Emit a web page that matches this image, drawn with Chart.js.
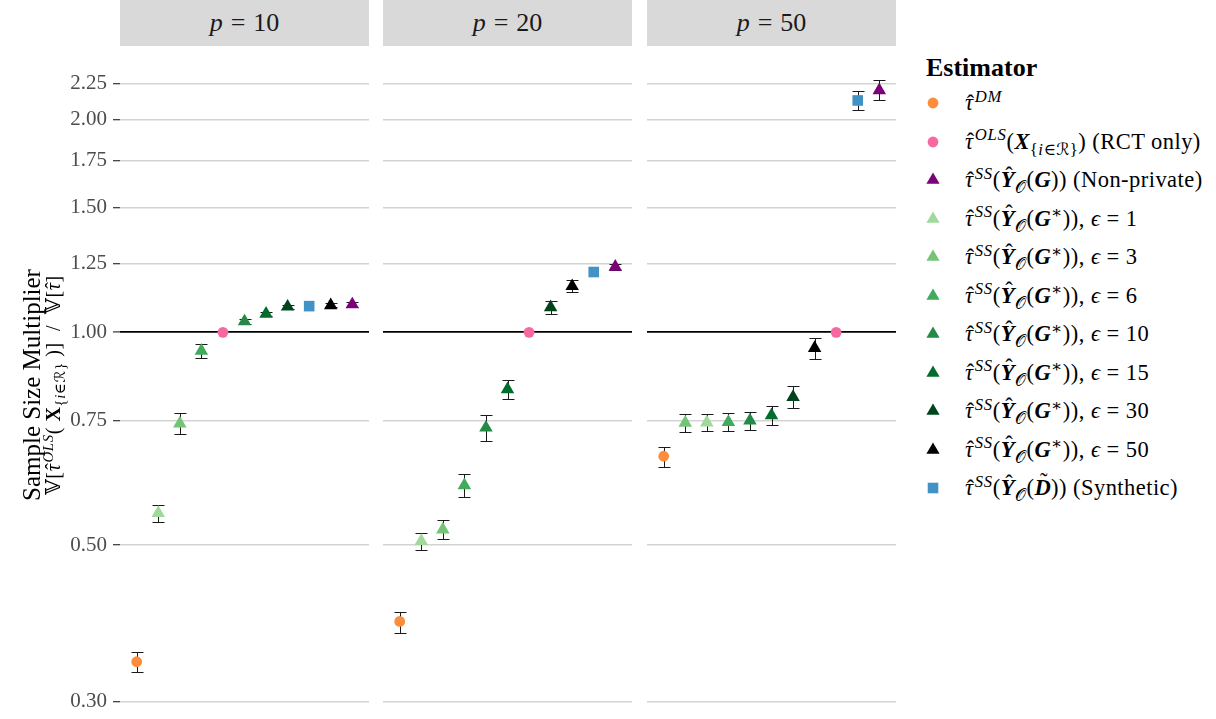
<!DOCTYPE html>
<html><head><meta charset="utf-8">
<script src="https://cdn.jsdelivr.net/npm/chart.js@4.4.1/dist/chart.umd.min.js"></script>
<style>
html,body{margin:0;padding:0;background:#fff;}
body{width:1216px;height:719px;overflow:hidden;position:relative;font-family:"Liberation Serif","DejaVu Serif","DejaVu Sans",serif;color:#000;}
.strip{position:absolute;top:0;height:46px;width:249px;background:#d9d9d9;display:flex;align-items:center;justify-content:center;font-size:26px;color:#1a1a1a;}
.strip .eq{margin:0 8px;}
canvas{position:absolute;top:0;}
.acc{position:relative;display:inline-block;}
.acc .hat{position:absolute;left:0.08em;right:0;top:0.02em;text-align:center;font-style:normal;font-weight:normal;}
.acc .hatc{position:absolute;left:0.12em;right:0;top:-0.2em;text-align:center;font-style:normal;font-weight:normal;}
.acc .til{position:absolute;left:0.12em;right:0;top:-0.3em;text-align:center;font-style:normal;font-weight:normal;}
.sup{font-size:0.74em;position:relative;top:-0.5em;font-style:italic;margin-left:0.08em;letter-spacing:0.04em;}
.sub{font-size:0.74em;position:relative;top:0.35em;}
.star{font-size:0.74em;position:relative;top:-0.45em;}
#ytitle{position:absolute;width:320px;height:44px;left:-117px;top:363px;transform:rotate(-90deg);text-align:center;}
#ytitle .l1{font-size:25px;line-height:21px;height:21px;}
#ytitle .l2{font-size:20px;line-height:23px;height:23px;letter-spacing:0.6px;}
#legend{position:absolute;left:0;top:0;}
.ltitle{position:absolute;left:926px;top:53px;font-size:26px;font-weight:bold;}
.lrow{position:absolute;left:965px;height:30px;line-height:30px;font-size:22.5px;white-space:nowrap;letter-spacing:0.45px;}
.lsym{position:absolute;}
</style>
</head><body>
<div class="strip" style="left:120px"><i>p</i><span class="eq">=</span>10</div>
<div class="strip" style="left:383px"><i>p</i><span class="eq">=</span>20</div>
<div class="strip" style="left:647px"><i>p</i><span class="eq">=</span>50</div>
<canvas id="c0" width="369" height="719" style="left:0px"></canvas>
<canvas id="c1" width="249" height="719" style="left:383px"></canvas>
<canvas id="c2" width="249" height="719" style="left:647px"></canvas>
<div id="ytitle">
  <div class="l1">Sample Size Multiplier</div>
  <div class="l2">𝕍[<span class="acc"><i>τ</i><span class="hat">ˆ</span></span><span class="sup">OLS</span>( <b>X</b><span class="sub">{<i>i</i>∈ℛ}</span> )]&nbsp; / &nbsp;𝕍[<span class="acc"><i>τ</i><span class="hat">ˆ</span></span>]</div>
</div>
<div id="legend"></div>
<script>
// ---- data ----
const facetLabels = ['p = 10', 'p = 20', 'p = 50'];
const estimatorNames = ['DM', 'OLS (RCT only)', 'SS (Non-private)', 'eps=1', 'eps=3', 'eps=6', 'eps=10', 'eps=15', 'eps=30', 'eps=50', 'SS (Synthetic)'];
const estimatorColors = ['#fd8d3c', '#f768a1', '#7a0177', '#a1d99b', '#74c476', '#41ab5d', '#238b45', '#006d2c', '#00441b', '#000000', '#4292c6'];
const estimatorShapes = ['circle', 'circle', 'triangle', 'triangle', 'triangle', 'triangle', 'triangle', 'triangle', 'triangle', 'triangle', 'rect'];
// values in estimator order
const p10Mean = [0.342, 1.000, 1.095, 0.555, 0.743, 0.9415, 1.036, 1.062, 1.087, 1.092, 1.089];
const p10Lo   = [0.3305, null, 1.087, 0.540, 0.717, 0.919, 1.029, 1.054, 1.080, 1.085, null];
const p10Hi   = [0.3534, null, 1.103, 0.570, 0.770, 0.964, 1.043, 1.070, 1.094, 1.099, null];
const p20Mean = [0.390, 1.000, 1.238, 0.5065, 0.526, 0.6075, 0.733, 0.8305, 1.085, 1.162, 1.217];
const p20Lo   = [0.376, null, 1.226, 0.4923, 0.510, 0.585, 0.702, 0.8044, 1.062, 1.140, null];
const p20Hi   = [0.4026, null, 1.250, 0.5208, 0.542, 0.6306, 0.765, 0.857, 1.108, 1.185, null];
const p50Mean = [0.668, 1.000, 2.199, 0.7455, 0.7445, 0.7463, 0.750, 0.763, 0.810, 0.950, 2.128];
const p50Lo   = [0.6457, null, 2.128, 0.724, 0.7238, 0.724, 0.728, 0.7405, 0.781, 0.917, 2.063];
const p50Hi   = [0.6893, null, 2.272, 0.766, 0.766, 0.769, 0.7726, 0.786, 0.840, 0.983, 2.194];
const yTickValues = [0.30, 0.50, 0.75, 1.00, 1.25, 1.50, 1.75, 2.00, 2.25];

const facetData = [[p10Mean, p10Lo, p10Hi], [p20Mean, p20Lo, p20Hi], [p50Mean, p50Lo, p50Hi]];

// ---- layout constants ----
const Y_MIN = 0.2866, Y_MAX = 2.541;
const X_MIN = 0.225, X_MAX = 11.775;

const errorBars = {
  id: 'errorBars',
  beforeDatasetsDraw(chart) {
    const {ctx, scales: {x, y}} = chart;
    ctx.save();
    ctx.strokeStyle = '#1a1a1a';
    ctx.lineWidth = 1;
    chart.data.datasets.forEach(ds => {
      ds.data.forEach(pt => {
        if (pt.lo == null) return;
        const px = Math.round(x.getPixelForValue(pt.x)) + 0.5;
        const y1 = Math.round(y.getPixelForValue(pt.lo)) + 0.5, y2 = Math.round(y.getPixelForValue(pt.hi)) + 0.5;
        ctx.beginPath();
        ctx.moveTo(px, y1); ctx.lineTo(px, y2);
        ctx.moveTo(px - 6, y1); ctx.lineTo(px + 6, y1);
        ctx.moveTo(px - 6, y2); ctx.lineTo(px + 6, y2);
        ctx.stroke();
      });
    });
    ctx.restore();
  }
};

function shapeRadius(s) { return s === 'circle' ? 5.4 : (s === 'triangle' ? 7.8 : 7.5); }

function makeChart(id, fi, showAxis) {
  const [mean, lo, hi] = facetData[fi];
  const order = mean.map((v, i) => i).sort((a, b) => mean[a] - mean[b]);
  const rank = [];
  order.forEach((ei, r) => { rank[ei] = r + 1; });
  const datasets = estimatorNames.map((name, i) => ({
    label: name,
    data: [{x: rank[i], y: mean[i], lo: lo[i], hi: hi[i]}],
    pointStyle: estimatorShapes[i],
    pointRadius: shapeRadius(estimatorShapes[i]),
    pointHoverRadius: shapeRadius(estimatorShapes[i]),
    backgroundColor: estimatorColors[i],
    borderColor: estimatorColors[i],
    pointBorderWidth: 0,
    showLine: false
  }));
  return new Chart(document.getElementById(id), {
    type: 'scatter',
    data: {datasets},
    plugins: [errorBars],
    options: {
      responsive: false, animation: false, devicePixelRatio: 1,
      layout: {autoPadding: false, padding: {top: 46, bottom: 3, left: 0, right: 0}},
      plugins: {legend: {display: false}, tooltip: {enabled: false}, title: {display: false}},
      scales: {
        x: {type: 'linear', min: X_MIN, max: X_MAX, display: false},
        y: {
          type: 'logarithmic', min: Y_MIN, max: Y_MAX,
          afterBuildTicks(s) { s.ticks = yTickValues.map(v => ({value: v})); },
          afterFit(s) { s.width = showAxis ? 120 : 0; s.paddingTop = 0; s.paddingBottom = 0; },
          border: {display: false},
          grid: {
            color: c => (c.tick && Math.abs(c.tick.value - 1) < 1e-9) ? '#000000' : '#d3d3d3',
            lineWidth: c => (c.tick && Math.abs(c.tick.value - 1) < 1e-9) ? 1.8 : 1.4,
            drawTicks: showAxis, tickLength: 7, tickColor: '#333333', tickWidth: 1.2
          },
          ticks: {
            display: showAxis, padding: 6, color: '#4d4d4d', autoSkip: false,
            font: {family: 'Liberation Serif', size: 21},
            callback: v => Number(v).toFixed(2)
          }
        }
      }
    }
  });
}

makeChart('c0', 0, true);
makeChart('c1', 1, false);
makeChart('c2', 2, false);

// ---- legend (HTML, math formatting) ----
const tau = '<span class="acc"><i>τ</i><span class="hat">ˆ</span></span>';
const yhat = '<span class="acc"><b><i>Y</i></b><span class="hatc">ˆ</span></span>';
const ssPre = tau + '<span class="sup">SS</span>(' + yhat + '<span class="sub">𝒪</span>(';
const gStar = '<b><i>G</i></b><span class="star">∗</span>)), <i>ϵ</i> = ';
const legendLabels = [
  tau + '<span class="sup">DM</span>',
  tau + '<span class="sup">OLS</span>(<b><i>X</i></b><span class="sub">{<i>i</i>∈ℛ}</span>) (RCT only)',
  ssPre + '<b><i>G</i></b>)) (Non-private)',
  ssPre + gStar + '1',
  ssPre + gStar + '3',
  ssPre + gStar + '6',
  ssPre + gStar + '10',
  ssPre + gStar + '15',
  ssPre + gStar + '30',
  ssPre + gStar + '50',
  ssPre + '<span class="acc"><b><i>D</i></b><span class="til">˜</span></span>)) (Synthetic)'
];
const leg = document.getElementById('legend');
let html = '<div class="ltitle">Estimator</div>';
legendLabels.forEach((lab, i) => {
  const cy = 103.3 + i * 38.5;
  const col = estimatorColors[i], sh = estimatorShapes[i];
  let svg;
  if (sh === 'circle') svg = `<circle cx="10" cy="10" r="5.4" fill="${col}"/>`;
  else if (sh === 'triangle') svg = `<polygon points="10,2.4 16.6,13.8 3.4,13.8" fill="${col}"/>`;
  else svg = `<rect x="4.7" y="4.7" width="10.6" height="10.6" fill="${col}"/>`;
  html += `<svg class="lsym" width="20" height="20" style="left:${933.3 - 10}px;top:${cy - 10}px">${svg}</svg>`;
  html += `<div class="lrow" style="top:${cy - 15}px">${lab}</div>`;
});
leg.innerHTML = html;
</script>
</body></html>
